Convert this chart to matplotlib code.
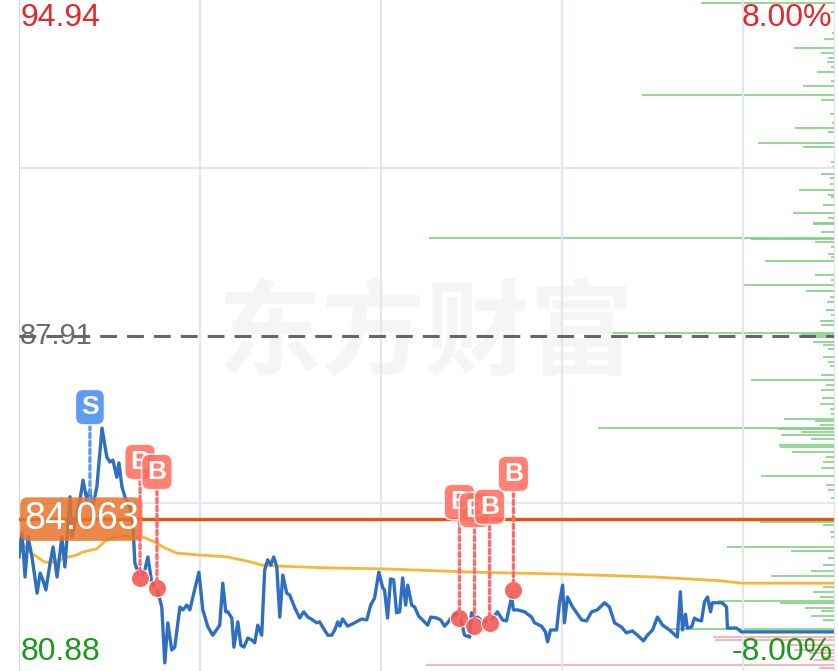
import matplotlib
matplotlib.use("Agg")
import matplotlib.pyplot as plt
import matplotlib.transforms as mtransforms

plt.rcParams['font.family'] = ['Liberation Sans', 'Noto Sans CJK SC', 'DejaVu Sans']

# 价格区间 / 昨收
y_top = 94.94
y_bottom = 80.88
pre_close = 87.91
cost_price = 84.063

# 分时价格 (分钟, 价格)
minutes = [0.0, 1.0, 2.0, 3.0, 4.3, 6.0, 7.0, 7.9, 8.9, 10.3, 11.3, 12.6, 14.2, 15.2, 16.9, 17.5,
           18.5, 20.2, 21.2, 22.5, 23.5, 24.2, 25.8, 27.5, 29.1, 30.1, 31.1, 32.4, 33.1, 34.1, 35.1,
           36.7, 37.7, 38.4, 40.1, 41.7, 42.7, 44.0, 45.7, 47.3, 48.3, 49.3, 50.6, 51.6, 53.3, 54.3,
           55.6, 56.6, 57.6, 59.6, 60.9, 62.6, 64.2, 66.5, 67.5, 68.5, 69.2, 70.5, 71.2, 72.5, 73.5,
           74.5, 75.8, 77.1, 78.1, 79.1, 80.4, 81.4, 82.4, 83.4, 84.4, 85.4, 86.4, 87.4, 88.7, 89.7,
           91.4, 93.0, 94.3, 95.7, 97.3, 98.6, 99.6, 100.6, 102.3, 103.6, 104.6, 105.6, 106.3, 107.2,
           108.9, 111.2, 113.5, 115.2, 116.5, 117.8, 119.2, 120.5, 121.1, 122.1, 123.1, 124.1, 125.1,
           126.1, 127.1, 128.1, 128.8, 130.1, 131.1, 132.4, 133.7, 135.4, 136.4, 138.4, 139.7, 141.0,
           142.0, 143.3, 145.0, 146.3, 147.6, 149.3, 149.9, 150.9, 151.9, 153.6, 155.9, 157.2, 158.5,
           160.2, 161.5, 162.5, 163.2, 163.8, 165.2, 167.5, 169.8, 170.8, 173.1, 174.4, 175.1, 176.1,
           178.1, 179.1, 180.1, 180.7, 181.7, 183.4, 186.4, 188.0, 189.7, 191.6, 194.0, 195.6, 197.3,
           199.6, 201.2, 203.2, 204.9, 206.9, 208.2, 209.9, 211.5, 213.2, 215.5, 217.8, 218.1, 219.1,
           219.8, 220.8, 221.4, 222.8, 223.8, 224.7, 226.1, 227.1, 228.1, 229.1, 229.7, 231.4, 233.0,
           234.4, 234.7, 237.7, 239.3, 270.0]
prices = [83.27, 83.77, 82.85, 83.69, 83.27, 82.51, 82.93, 82.79, 82.58, 83.14, 83.48, 82.85, 83.69,
          83.06, 84.53, 83.69, 83.98, 84.46, 84.88, 84.46, 84.67, 84.25, 84.74, 85.97, 85.36, 85.26,
          85.30, 84.94, 85.24, 84.74, 84.53, 84.32, 83.98, 83.14, 82.83, 83.00, 83.27, 82.72, 82.62,
          82.22, 81.05, 81.89, 81.32, 81.38, 82.22, 82.16, 82.26, 82.16, 82.43, 82.95, 82.16, 81.80,
          81.63, 81.84, 82.72, 82.12, 82.12, 81.99, 81.38, 81.91, 81.42, 81.38, 81.57, 81.53, 81.47,
          81.84, 81.63, 83.00, 83.21, 83.10, 83.27, 83.06, 82.01, 82.89, 82.51, 82.47, 82.20, 81.99,
          82.12, 82.01, 81.95, 81.89, 81.91, 81.80, 81.63, 81.63, 81.74, 81.91, 81.82, 81.97, 81.82,
          81.89, 81.97, 81.95, 82.26, 82.41, 82.95, 82.62, 82.58, 81.99, 82.81, 82.79, 82.10, 82.12,
          82.83, 82.26, 82.68, 82.26, 82.22, 82.03, 81.95, 81.84, 82.01, 81.99, 81.95, 81.82, 81.89,
          82.01, 82.10, 81.99, 81.63, 81.59, 82.10, 81.95, 82.01, 81.91, 81.91, 82.01, 82.12, 81.95,
          81.93, 82.22, 82.43, 82.16, 82.16, 82.12, 82.01, 81.89, 81.82, 81.70, 81.49, 81.74, 81.74,
          82.33, 82.68, 81.89, 82.43, 82.22, 81.95, 81.93, 82.12, 82.16, 82.31, 82.22, 81.89, 81.80,
          81.68, 81.72, 81.63, 81.51, 81.63, 81.74, 82.01, 81.84, 81.74, 81.61, 81.59, 82.54, 81.74,
          82.07, 81.78, 81.80, 81.99, 81.95, 81.93, 82.33, 82.43, 82.12, 82.31, 82.31, 82.31, 82.22,
          81.78, 81.78, 81.70, 81.70]

# 均价线
avg_minutes = [0.0, 3.6, 8.6, 11.3, 15.2, 19.2, 20.9, 25.8, 28.5, 31.8, 34.4, 41.0, 45.0, 48.3,
               52.3, 59.9, 69.2, 77.1, 80.4, 85.7, 102.3, 121.1, 150.9, 180.7, 210.5, 232.7,
               239.3, 270.0]
avg_prices = [83.63, 83.37, 83.16, 83.16, 83.25, 83.31, 83.37, 83.44, 83.60, 83.69, 83.71, 83.69,
              83.58, 83.46, 83.35, 83.31, 83.27, 83.16, 83.10, 83.08, 83.04, 83.02, 82.95, 82.91,
              82.85, 82.77, 82.72, 82.72]

# 买卖点
sell_minutes = [23.5]
sell_prices = [84.46]
buy_minutes = [40.1, 45.7, 145.9, 150.9, 155.9, 163.8]
buy_prices = [82.83, 82.62, 81.99, 81.82, 81.89, 82.58]

# 筹码分布 (价格, 数量)
chip_prices = [94.88, 94.69, 94.25, 94.12, 93.93, 93.83, 93.72, 93.64, 93.54, 93.43, 93.24, 93.14,
               92.95, 92.85, 92.55, 92.36, 92.26, 92.17, 91.94, 91.86, 91.55, 91.44, 91.29, 91.21,
               91.08, 90.96, 90.85, 90.81, 90.64, 90.48, 90.37, 90.27, 90.25, 90.08, 89.95, 89.93,
               89.87, 89.76, 89.62, 89.56, 89.47, 89.18, 89.07, 88.97, 88.84, 88.72, 88.61, 88.44,
               88.34, 88.21, 88.13, 87.96, 87.92, 87.88, 87.77, 87.71, 87.63, 87.46, 87.35, 87.27,
               87.08, 86.98, 86.87, 86.77, 86.60, 86.47, 86.37, 86.27, 86.16, 86.12, 86.03, 85.97,
               85.95, 85.89, 85.83, 85.74, 85.62, 85.57, 85.47, 85.36, 85.26, 85.13, 84.97, 84.78,
               84.67, 84.51, 84.40, 84.00, 83.94, 83.79, 83.69, 83.48, 83.39, 83.25, 83.10, 82.98,
               82.87, 82.72, 82.64, 82.54, 82.43, 82.35, 82.31, 82.20, 82.14, 82.03, 81.95, 81.76]
chip_volumes = [133, 3, 2, 10, 40, 13, 6, 7, 3, 17, 3, 31, 192, 13, 4, 2, 39, 6, 76, 31, 3, 2, 13,
                4, 4, 35, 6, 3, 11, 41, 6, 21, 21, 13, 405, 83, 19, 3, 6, 3, 69, 19, 3, 90, 28, 4,
                7, 8, 3, 14, 13, 239, 33, 26, 21, 11, 6, 11, 6, 4, 13, 83, 8, 13, 12, 14, 4, 3, 50,
                19, 14, 236, 56, 33, 53, 23, 55, 54, 42, 8, 11, 13, 73, 8, 6, 3, 14, 74, 11, 4, 3,
                107, 43, 6, 11, 23, 63, 16, 11, 21, 14, 116, 54, 29, 13, 23, 11, 163]
loss_chip_prices = [81.59, 81.53, 81.42, 81.32, 81.26, 81.17, 81.11, 81.01, 80.94]
loss_chip_volumes = [121, 119, 45, 40, 25, 10, 20, 408, 15]

fig = plt.figure(figsize=(8.38, 6.71), dpi=100)
ax = fig.add_axes([19 / 838, 0, 815 / 838, 1])
ax.set_xlim(0, 270)
ax.set_ylim(y_bottom, y_top)

# 网格
ax.set_xticks([60, 120, 180, 240])
ax.set_yticks([y_bottom + (y_top - y_bottom) * 0.25, y_bottom + (y_top - y_bottom) * 0.75])
ax.grid(True, color='#e3e6ee', lw=1.6, zorder=0)
ax.tick_params(length=0, labelleft=False, labelbottom=False)
for side in ['top', 'bottom']:
    ax.spines[side].set_visible(False)
ax.spines['left'].set_color('#d5d8e0')
ax.spines['right'].set_color('#e3e6ee')

# 水印
ax.text(0.5, 0.5, '东方财富', transform=ax.transAxes, ha='center', va='center',
        fontsize=75, color='#f5f5f5', fontweight='bold', family=['Noto Sans CJK SC'], zorder=0)

# 筹码
ax2 = ax.twiny()
ax2.set_xlim(815, 0)
ax2.hlines(chip_prices, 0, chip_volumes, color='#74cc74', lw=1.2, alpha=0.9, zorder=1)
ax2.hlines(loss_chip_prices, 0, loss_chip_volumes, color='#f7a0a0', lw=1.2, alpha=0.9, zorder=1)
ax2.axis('off')
ax2.set_zorder(0)
ax.set_zorder(1)
ax.patch.set_visible(False)

yblend = mtransforms.blended_transform_factory(ax.transAxes, ax.transData)

# 昨收虚线
ax.text(0.001, pre_close, '87.91', transform=yblend, ha='left', va='center',
        fontsize=21, color='#6a6a6a', zorder=3)
ax.axhline(pre_close, color='#666666', lw=2.2, dashes=(5.5, 3.3), zorder=4)

# 成本线
ax.axhline(cost_price, color='#e8540e', lw=2.4, zorder=3)

ax.plot(avg_minutes, avg_prices, color='#fbb43a', lw=2.0, zorder=4)
ax.plot(minutes, prices, color='#2f6fc0', lw=2.4, zorder=5)

ax.text(0.006, cost_price, '84.063', transform=yblend, ha='left', va='center',
        fontsize=27, color='white', zorder=6,
        bbox=dict(boxstyle='round,pad=0.1,rounding_size=0.2', fc='#e8742c', ec='none', alpha=0.85))

# 买卖点标记
for t, p in zip(sell_minutes, sell_prices):
    ax.annotate('S', xy=(t, p), xytext=(0, 93), textcoords='offset pixels', ha='center', va='center',
                fontsize=19, color='white', fontweight='bold', zorder=8,
                bbox=dict(boxstyle='round,pad=0.22,rounding_size=0.3', fc='#4d90f2', ec='white', lw=1.2, alpha=0.9),
                arrowprops=dict(arrowstyle='-', color='#5b9bf5', lw=2.4, linestyle=(0, (1.3, 1.1)),
                                shrinkA=0, shrinkB=0))

for t, p in zip(buy_minutes, buy_prices):
    ax.annotate('B', xy=(t, p), xytext=(0, 116), textcoords='offset pixels', ha='center', va='center',
                fontsize=19, color='white', fontweight='bold', zorder=8,
                bbox=dict(boxstyle='round,pad=0.22,rounding_size=0.3', fc='#ff6b5e', ec='white', lw=1.2, alpha=0.85),
                arrowprops=dict(arrowstyle='-', color='#ff6b6b', lw=2.4, linestyle=(0, (1.3, 1.1)),
                                shrinkA=0, shrinkB=0))
ax.scatter(buy_minutes, buy_prices, s=170, color='#f25a52', edgecolor='white', lw=0.8, alpha=0.9, zorder=7)

# 坐标标签
ax.text(0.002, 0.996, '94.94', transform=ax.transAxes, ha='left', va='top', fontsize=23, color='#e8262a', zorder=9)
ax.text(0.002, 0.006, '80.88', transform=ax.transAxes, ha='left', va='bottom', fontsize=23, color='#1a9a1a', zorder=9)
ax.text(0.998, 0.996, '8.00%', transform=ax.transAxes, ha='right', va='top', fontsize=23, color='#e8262a', zorder=9)
ax.text(0.998, 0.006, '-8.00%', transform=ax.transAxes, ha='right', va='bottom', fontsize=23, color='#1a9a1a', zorder=9)

fig.savefig('out.png', dpi=100, facecolor='white')
